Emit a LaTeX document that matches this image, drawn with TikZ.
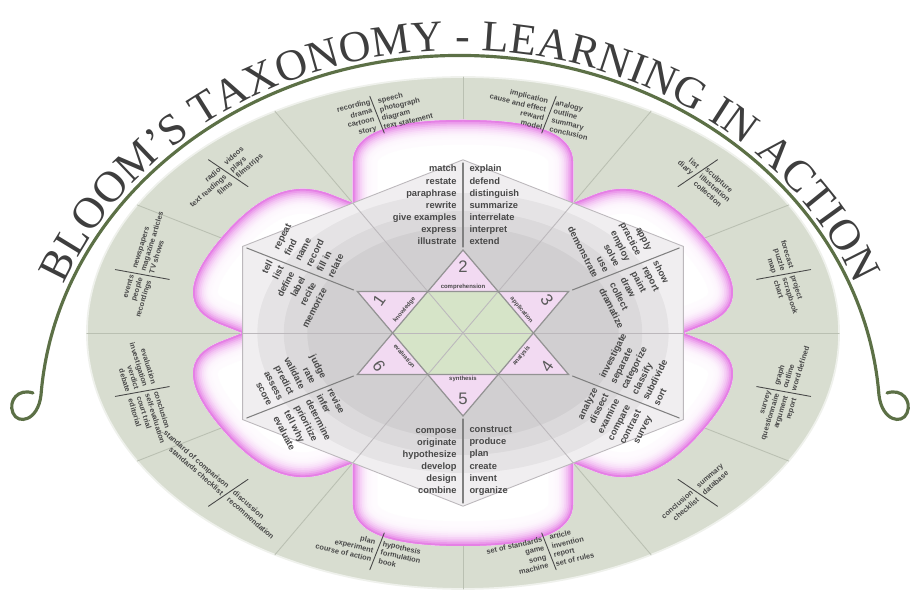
\documentclass[tikz,border=0pt]{standalone}
\usepackage{fontspec}
\setmainfont{Liberation Serif}
\newfontfamily\labelsans{Liberation Sans}
\usetikzlibrary{decorations.text}

\definecolor{ringgreen}{RGB}{216,221,208}
\definecolor{ringlinecol}{RGB}{186,192,178}
\definecolor{arcgreen}{RGB}{92,112,70}
\definecolor{titlegrey}{RGB}{62,62,62}
\definecolor{petalpink}{RGB}{226,110,226}
\definecolor{panelfill}{RGB}{240,238,240}
\definecolor{panellinecol}{RGB}{188,184,188}
\definecolor{starpink}{RGB}{242,218,242}
\definecolor{stargreen}{RGB}{214,228,200}
\definecolor{textgrey}{RGB}{72,72,72}

\newcommand\titlestyle{\fontsize{25}{25}\selectfont\color{titlegrey}}
\newcommand\panelfont{\labelsans\bfseries\fontsize{5.3}{6.9}\selectfont}
\newcommand\ringtxtfont{\labelsans\bfseries\fontsize{4.2}{5.1}\selectfont}

\tikzset{
  titlearc/.style={arcgreen, line width=1.8pt},
  ringline/.style={ringlinecol, line width=0.5pt},
  ringdiv/.style={textgrey, line width=0.5pt},
  panelline/.style={panellinecol, line width=0.5pt},
  divline/.style={gray, line width=0.6pt},
  starline/.style={gray!85, line width=0.7pt},
  verbs/.style={font=\panelfont, text=textgrey, inner ysep=0pt, inner xsep=3.5pt},
  ringtext/.style={font=\ringtxtfont, text=textgrey, inner ysep=0pt, inner xsep=2pt},
  starnum/.style={font=\labelsans\fontsize{9.5}{9.5}\selectfont, text=textgrey!90, inner sep=0pt},
  starlabel/.style={font=\labelsans\bfseries\fontsize{3.4}{3.4}\selectfont, text=textgrey, inner sep=0pt}
}

\begin{document}
\begin{tikzpicture}[x=0.02cm, y=0.02cm, line cap=round]
\useasboundingbox (-463,-274) rectangle (449,333);

%title arc with curls
\draw[titlearc] (-430,-60) .. controls (-445,-55) and (-455,-68) .. (-450,-80)
  .. controls (-445,-92) and (-425,-88) .. (-422,-62)
  arc[start angle=176, end angle=4, x radius=420, y radius=365]
  .. controls (419,-88) and (439,-92) .. (444,-80)
  .. controls (449,-68) and (439,-55) .. (424,-60);
\path[decorate, decoration={text along path, text align=center, raise=3pt,
    text={|\titlestyle|BLOOM'S TAXONOMY - LEARNING IN ACTION}}]
  (-422,-62) arc[start angle=176, end angle=4, x radius=420, y radius=365];

\begin{scope}[xscale=1.469]
  %outer ring
  \fill[ringgreen] (0,0) circle[radius=256];
  \draw[white!60!ringgreen, line width=1pt] (0,0) circle[radius=256];
  \foreach \a in {0,30,...,330}
    \draw[ringline] (\a:150) -- (\a:256);

  %petals
  \foreach \p/\h in {90/213, 30/190, -30/190, -90/213, -150/190, 150/190} {
    \begin{scope}[rotate=\p-90]
      \fill[white] (-75,130) -- (-75,\h-43) .. controls (-75,\h-13) and (-50,\h) .. (0,\h)
        .. controls (50,\h) and (75,\h-13) .. (75,\h-43) -- (75,130) -- (0,173) -- cycle;
      \clip (-75,130) -- (-75,\h-43) .. controls (-75,\h-13) and (-50,\h) .. (0,\h)
        .. controls (50,\h) and (75,\h-13) .. (75,\h-43) -- (75,130) -- (0,173) -- cycle;
      \foreach \k in {0,1,...,13} {
        \pgfmathsetmacro\w{28-2*\k}
        \pgfmathtruncatemacro\c{3+85*(\k/13)^3}
        \draw[line width=\w*1pt, petalpink!\c] (-75,125) -- (-75,\h-43) .. controls (-75,\h-13) and (-50,\h) .. (0,\h)
          .. controls (50,\h) and (75,\h-13) .. (75,\h-43) -- (75,125);
      }
    \end{scope}
  }

  %hexagon of panels
  \fill[panelfill] (90:173.2) -- (30:173.2) -- (-30:173.2) -- (-90:173.2) -- (-150:173.2) -- (150:173.2) -- cycle;
  \foreach \r in {140,122,106}
    \fill[black, opacity=0.045] (0,0) circle[radius=\r];
  \draw[panelline] (90:173.2) -- (30:173.2) -- (-30:173.2) -- (-90:173.2) -- (-150:173.2) -- (150:173.2) -- cycle;

  %star
  \fill[starpink] (90:83) -- (60:48) -- (30:83) -- (0:48) -- (-30:83) -- (-60:48) -- (-90:83)
    -- (-120:48) -- (-150:83) -- (180:48) -- (150:83) -- (120:48) -- cycle;
  \fill[stargreen] (60:48) -- (0:48) -- (-60:48) -- (-120:48) -- (180:48) -- (120:48) -- cycle;
  \foreach \a in {0,60,...,300}
    \draw[panelline] (0,0) -- (\a:150);
  \draw[starline] (90:83) -- (-30:83) -- (-150:83) -- cycle;
  \draw[starline] (-90:83) -- (30:83) -- (150:83) -- cycle;

  \foreach \p/\n/\r in {150/1/55, 90/2/0, 30/3/-55, -30/4/55, -90/5/0, -150/6/-55}
    \node[starnum, rotate=\r] (num\n) at (\p:66) {\n};
  \foreach \p/\txt/\r [count=\i] in {150/knowledge/49.7, 90/comprehension/0, 30/application/-49.7,
      -30/analysis/49.7, -90/synthesis/0, -150/evaluation/-49.7}
    \node[starlabel, rotate=\r] (lab\i) at (\p:46) {\txt};

  %verb panels
  \foreach \p in {90,30,-30,-90,-150,150}
    \draw[divline] (\p:86) -- (\p:170);
  \foreach \p/\r/\lt/\rt [count=\i] in {
    90/0/{match\\restate\\paraphrase\\rewrite\\give examples\\express\\illustrate}/{explain\\defend\\distinguish\\summarize\\interrelate\\interpret\\extend},
    -90/0/{compose\\originate\\hypothesize\\develop\\design\\combine}/{construct\\produce\\plan\\create\\invent\\organize},
    150/63/{tell\\list\\define\\label\\recite\\memorize}/{repeat\\find\\name\\record\\fill in\\relate},
    30/-63/{apply\\practice\\employ\\solve\\use\\demonstrate}/{show\\report\\paint\\draw\\collect\\dramatize},
    -30/63/{analyze\\dissect\\examine\\compare\\contrast\\survey}/{investigate\\separate\\categorize\\classify\\subdivide\\sort},
    -150/-63/{judge\\rate\\validate\\predict\\assess\\score}/{revise\\infer\\determine\\prioritize\\tell why\\evaluate}}{
    \node[verbs, anchor=east, align=right, rotate=\r] (verbL\i) at (\p:128) {\lt};
    \node[verbs, anchor=west, align=left, rotate=\r] (verbR\i) at (\p:128) {\rt};
  }

  %products in the outer ring
  \foreach \t/\lt/\rt [count=\i] in {
    105/{recording\\drama\\cartoon\\story}/{speech\\photograph\\diagram\\text statement},
    75/{implication\\cause and effect\\reward\\model}/{analogy\\outline\\summary\\conclusion},
    45/{list\\diary}/{sculpture\\illustration\\collection},
    15/{forecast\\puzzle\\map}/{project\\scrapbook\\chart},
    -15/{survey\\questionnaire\\argument\\report}/{graph\\outline\\word defined},
    -45/{conclusion\\checklist}/{summary\\database},
    -75/{set of standards\\game\\song\\machine}/{article\\invention\\report\\set of rules},
    -105/{plan\\experiment\\course of action}/{hypothesis\\formulation\\book},
    -135/{standard of comparison\\standards checklist}/{discussion\\recommendation},
    -165/{evaluation\\investigation\\verdict\\debate}/{conclusion\\self-evaluation\\court trial\\editorial},
    165/{events\\people\\recordings}/{newspapers\\magazine articles\\TV shows},
    135/{radio\\text readings\\films}/{videos\\plays\\filmstrips}}{
    \pgfmathsetmacro\rot{atan(-cos(\t)/(1.15*sin(\t)))}
    \draw[ringdiv] (\t:207) -- (\t:245);
    \node[ringtext, anchor=east, align=right, rotate=\rot] (ringL\i) at (\t:226) {\lt};
    \node[ringtext, anchor=west, align=left, rotate=\rot] (ringR\i) at (\t:226) {\rt};
  }
\end{scope}
\end{tikzpicture}
\end{document}
